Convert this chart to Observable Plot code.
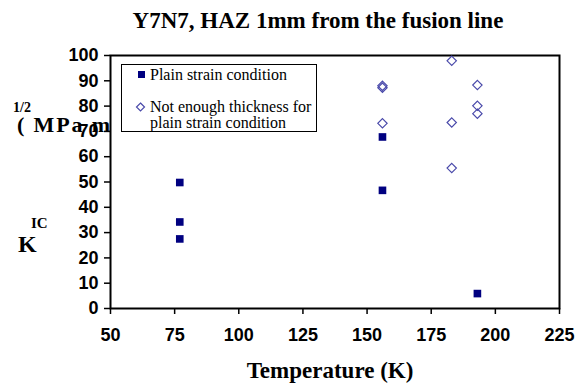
<!DOCTYPE html>
<html>
<head>
<meta charset="utf-8">
<script src="https://cdn.jsdelivr.net/npm/d3@7"></script>
<script src="https://cdn.jsdelivr.net/npm/@observablehq/plot@0.6"></script>
<style>
  html, body { margin: 0; padding: 0; background: white; }
  #chart { position: relative; width: 578px; height: 385px; }
</style>
</head>
<body>
<div id="chart"></div>
<script>
// ---- data ----
const title = "Y7N7, HAZ 1mm from the fusion line";
const xLabel = "Temperature (K)";
const yLabelK = "K";
const yLabelSub = "IC";
const yLabelUnit = "( MPa m";
const yLabelExp = "1/2";
const legendLabels = ["Plain strain condition", "Not enough thickness for", "plain strain condition"];

const xTicks = [50, 75, 100, 125, 150, 175, 200, 225];
const yTicks = [0, 10, 20, 30, 40, 50, 60, 70, 80, 90, 100];

const plainT = [77, 77, 77, 156, 156, 193];
const plainK = [49.8, 34.2, 27.5, 67.8, 46.7, 5.9];

const thinT = [156, 156, 156, 183, 183, 183, 193, 193, 193];
const thinK = [88.0, 87.3, 73.2, 97.9, 73.5, 55.5, 88.3, 80.1, 77.0];

const plain = plainT.map((t, i) => ({t, k: plainK[i]}));
const thin = thinT.map((t, i) => ({t, k: thinK[i]}));

const navy = "#000080";
const diamondStroke = "#4a4aaa";

const svg = Plot.plot({
  width: 578,
  height: 385,
  marginLeft: 110,
  marginRight: 19,
  marginTop: 55,
  marginBottom: 77,
  style: {fontFamily: "'Liberation Sans', Arial, sans-serif", fontSize: "18px", fontWeight: "bold", color: "black", background: "white"},
  x: {domain: [50, 225]},
  y: {domain: [0, 100]},
  marks: [
    Plot.frame({stroke: "black", strokeWidth: 2}),
    Plot.axisX({ticks: xTicks, tickSize: 6, tickPadding: 14, tickFormat: d => String(d), label: null, strokeWidth: 1.5}),
    Plot.axisY({ticks: yTicks, tickSize: 6, tickPadding: 6, tickFormat: d => String(d), label: null, strokeWidth: 1.5}),
    Plot.dot(thin, {x: "t", y: "k", symbol: "diamond2", r: 4.2, stroke: diamondStroke, strokeWidth: 1.2, fill: "none"}),
    Plot.dot(plain, {x: "t", y: "k", symbol: "square", r: 4.3, fill: navy, stroke: "none"})
  ]
});

document.getElementById("chart").appendChild(svg);

// ---- annotations (title, axis labels, legend) ----
const s = d3.select(svg);
const serif = "'Liberation Serif', 'Times New Roman', serif";

function txt(str, x, y, size, opts = {}) {
  const t = s.append("text")
    .attr("x", x).attr("y", y)
    .attr("font-family", serif)
    .attr("font-size", size)
    .attr("font-weight", opts.weight || "bold")
    .attr("text-anchor", opts.anchor || "start")
    .attr("fill", "black")
    .text(str);
  if (opts.len) t.attr("textLength", opts.len).attr("lengthAdjust", "spacing");
  return t;
}

txt(title, 318, 28, 23, {anchor: "middle"});
txt(xLabel, 330, 378, 23, {anchor: "middle"});
txt(yLabelK, 18, 252, 24);
txt(yLabelSub, 31, 228, 15);
txt(yLabelUnit, 17, 132, 22, {len: 93});
txt(yLabelExp, 13, 112, 14);

// legend
const lg = s.append("g");
lg.append("rect").attr("x", 121.5).attr("y", 64.5).attr("width", 195).attr("height", 67)
  .attr("fill", "white").attr("stroke", "black").attr("stroke-width", 1);
lg.append("rect").attr("x", 138).attr("y", 71).attr("width", 7).attr("height", 7).attr("fill", navy);
lg.append("path").attr("d", "M140.5,103 L144.5,107 L140.5,111 L136.5,107 Z")
  .attr("fill", "none").attr("stroke", diamondStroke).attr("stroke-width", 1.2);
txt(legendLabels[0], 150, 80, 16, {weight: "normal"});
txt(legendLabels[1], 150, 112, 16, {weight: "normal"});
txt(legendLabels[2], 150, 128, 16, {weight: "normal"});
</script>
</body>
</html>
